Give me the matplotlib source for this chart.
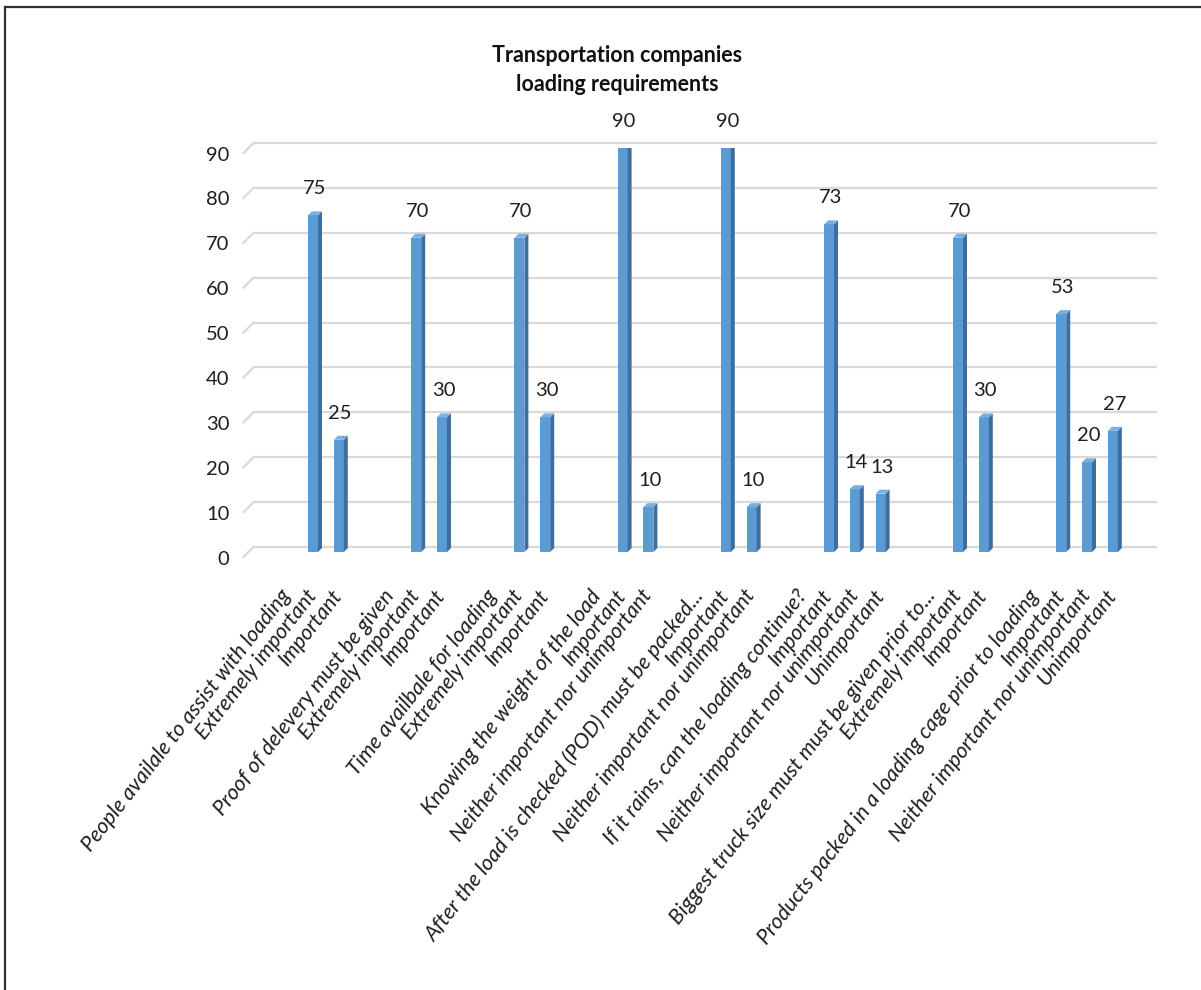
import numpy as np
import matplotlib
matplotlib.use("Agg")
import matplotlib.pyplot as plt
from matplotlib.patches import Polygon
from matplotlib.lines import Line2D

# ---- data -------------------------------------------------------------
categories = [
    "", "People availale to assist with loading", "Extremely important", "Important",
    "", "Proof of delevery must be given", "Extremely important", "Important",
    "", "Time availbale for loading", "Extremely important", "Important",
    "", "Knowing the weight of the load", "Important", "Neither important nor unimportant",
    "", "After the load is checked (POD) must be packed...", "Important",
    "Neither important nor unimportant",
    "", "If it rains, can the loading continue?", "Important",
    "Neither important nor unimportant", "Unimportant",
    "", "Biggest truck size must must be given prior to...", "Extremely important", "Important",
    "", "Products packed in a loading cage prior to loading", "Important",
    "Neither important nor unimportant", "Unimportant", "",
]
values = [
    None, None, 75, 25,
    None, None, 70, 30,
    None, None, 70, 30,
    None, None, 90, 10,
    None, None, 90, 10,
    None, None, 73, 14, 13,
    None, None, 70, 30,
    None, None, 53, 20, 27, None,
]
y_ticks = [0, 10, 20, 30, 40, 50, 60, 70, 80, 90]
title = "Transportation companies\nloading requirements"

# ---- style ------------------------------------------------------------
FONT = ["Lato", "DejaVu Sans"]
plt.rcParams["font.family"] = FONT
FRONT = "#5B9BD5"
SIDE = "#3E6E9E"
TOP = "#7AAFE0"
GRID = "#D9D9D9"
INK = "#1E1E1E"

fig = plt.figure(figsize=(12.01, 9.90), dpi=100)
ax = fig.add_axes([0.2069, 0.4424, 0.7519, 0.4081])
n = len(categories)
x = np.arange(n)
ax.set_xlim(-0.5, n - 0.5)
ax.set_ylim(0, y_ticks[-1])
for s in ax.spines.values():
    s.set_visible(False)

# pixel -> data conversion for the pseudo-3D depth
px_x = ax.bbox.width / n
px_y = ax.bbox.height / (y_ticks[-1] - 0)
half_depth_x = 5 / px_x
half_depth_y = 5 / px_y
side_x = 4 / px_x
side_y = 4 / px_y
bar_w = 10 / px_x

# back-wall gridlines with floor stubs
x0, x1 = -0.5, n - 0.5
for v in y_ticks:
    ax.plot([x0 + half_depth_x, x1 + half_depth_x], [v + half_depth_y] * 2,
            color=GRID, lw=1.6, clip_on=False, zorder=1, solid_capstyle="butt")
    ax.plot([x0 - half_depth_x, x0 + half_depth_x], [v - half_depth_y, v + half_depth_y],
            color=GRID, lw=1.6, clip_on=False, zorder=1)
    ax.text(x0 - half_depth_x - 14 / px_x, v - half_depth_y - 2 / px_y, str(v),
            ha="right", va="center", fontsize=14.5, color=INK)

# bars
bx = [xi for xi, v in zip(x, values) if v is not None]
bh = [v for v in values if v is not None]
ax.bar(bx, bh, width=bar_w, color=FRONT, zorder=3, linewidth=0)
for xi, h in zip(bx, bh):
    r = xi + bar_w / 2
    l = xi - bar_w / 2
    ax.add_patch(Polygon([(r, 0), (r + side_x, side_y), (r + side_x, h + side_y), (r, h)],
                         closed=True, facecolor=SIDE, edgecolor="none", zorder=3))
    ax.add_patch(Polygon([(l, h), (r, h), (r + side_x, h + side_y), (l + side_x, h + side_y)],
                         closed=True, facecolor=TOP, edgecolor="none", zorder=3))
    ax.annotate(f"{h:g}", xy=(xi, h), xytext=(1, 19), textcoords="offset points",
                ha="center", va="center", fontsize=14.5, color=INK)

# category labels
ax.set_yticks([])
ax.set_xticks(x)
ax.set_xticklabels(categories, rotation=52, ha="right", va="center",
                   rotation_mode="anchor", fontstyle="italic", fontsize=15.5,
                   color=INK)
ax.tick_params(axis="x", length=0, pad=29)

fig.text(0.514, 0.929, title, ha="center", va="center", fontsize=15.5,
         fontweight="bold", linespacing=1.45, color="#111111")

# frame lines
fig.add_artist(Line2D([5 / 1201, 5 / 1201], [0, 1 - 7 / 990], transform=fig.transFigure,
                      color="#333333", lw=1.6))
fig.add_artist(Line2D([5 / 1201, 1], [1 - 7 / 990, 1 - 7 / 990], transform=fig.transFigure,
                      color="#333333", lw=1.6))

fig.savefig("out.png", dpi=100)
